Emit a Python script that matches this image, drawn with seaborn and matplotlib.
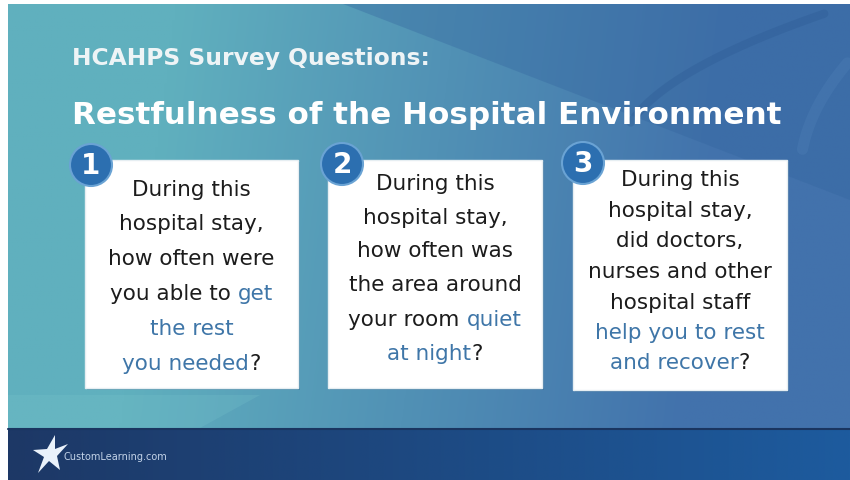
import numpy as np
import seaborn as sns
import matplotlib.pyplot as plt
from matplotlib.patches import Rectangle, Circle, Polygon

sns.set_style("white")
plt.rcParams['font.family'] = ['DejaVu Sans']

# slide texts
subtitle = "HCAHPS Survey Questions:"
title = "Restfulness of the Hospital Environment"
numbers = ["1", "2", "3"]
# words in [brackets] are drawn in blue
q1 = ["During this", "hospital stay,", "how often were", "you able to [get]",
      "[the rest]", "[you needed]?"]
q2 = ["During this", "hospital stay,", "how often was", "the area around",
      "your room [quiet]", "[at night]?"]
q3 = ["During this", "hospital stay,", "did doctors,", "nurses and other",
      "hospital staff", "[help you to rest]", "[and recover]?"]
questions = [q1, q2, q3]
footer = "CustomLearning.com"

W, H = 850, 480
fig = plt.figure(figsize=(8.5, 4.8), dpi=100)
ax = fig.add_axes([0, 0, 1, 1])
ax.set_xlim(0, W)
ax.set_ylim(H, 0)
ax.axis("off")

# background gradient (teal on the left, blue on the right)
xs = np.linspace(0, 1, 300)
ys = np.linspace(0, 1, 200)
X, Y = np.meshgrid(xs, ys)
teal = np.array([0x60, 0xB0, 0xBE]) / 255
blue = np.array([0x42, 0x72, 0xAC]) / 255
t = np.clip(X * 1.5 - 0.3 + Y * 0.1, 0, 1)[..., None]
img = teal * (1 - t) + blue * t
ax.imshow(img, extent=[8, W, 428, 4], aspect="auto", zorder=0)
# darker blue wedge at top right
ax.add_patch(Polygon([[343, 4], [W, 4], [W, 200]], closed=True,
                     color="#33649e", alpha=0.35, lw=0, zorder=1))
# lighter strip at the bottom left
ax.add_patch(Polygon([[8, 395], [260, 395], [200, 428], [8, 428]],
                     closed=True, color="#78c4cc", alpha=0.25, lw=0, zorder=1))
# soft arcs top right
ang = np.linspace(0.05, 0.95, 80)
ax.plot(620 + 215 * ang, 155 - 145 * np.sqrt(ang),
        color="#2c5a93", lw=6, alpha=0.35, zorder=1)
ax.plot(800 + 50 * ang, 175 - 115 * np.sqrt(ang),
        color="#5b8dc2", lw=8, alpha=0.2, zorder=1)

# footer bar
bar = np.linspace(0, 1, 300)[None, :, None]
navy = np.array([0x1D, 0x38, 0x66]) / 255
navy2 = np.array([0x1D, 0x5B, 0x9E]) / 255
ax.imshow(navy * (1 - bar) + navy2 * bar, extent=[8, W, H, 428],
          aspect="auto", zorder=1)
ax.plot([8, W], [428.5, 428.5], color="#1a3560", lw=1.5, zorder=2)
star = Polygon([[33, 450], [47, 449], [55, 435], [55, 449], [68, 444],
                [57, 456], [60, 470], [49, 461], [38, 473], [44, 457]],
               closed=True, color="#eaf2fb", lw=0, zorder=3)
ax.add_patch(star)
ax.text(64, 457, footer, color="#c3d3e8", fontsize=7, va="center",
        ha="left", zorder=3)

# titles
ax.text(72, 59, subtitle, color="#eef4f6", fontsize=16.8, fontweight="bold",
        va="center", ha="left", zorder=3)
ax.text(72, 116, title, color="white", fontsize=22.3, fontweight="bold",
        va="center", ha="left", zorder=3)

# boxes
boxes = [(85, 160, 213, 228), (328, 160, 214, 228), (573, 160, 214, 230)]
circles = [(91, 165), (342, 164), (583, 163)]
line_y = [[190, 224, 259, 294, 329, 364],
          [184, 218, 251, 285, 320, 354],
          [180, 211, 241, 272, 303, 333, 363]]
dark = "#1c1c1c"
blue_txt = "#3f76a8"
fs = 15.5

fig.canvas.draw()
renderer = fig.canvas.get_renderer()


def width_of(s):
    tt = ax.text(0, 0, s, fontsize=fs)
    bb = tt.get_window_extent(renderer=renderer)
    tt.remove()
    return bb.width


for (bx, by, bw, bh), lines, ly in zip(boxes, questions, line_y):
    ax.add_patch(Rectangle((bx + 2, by + 2), bw, bh, color="#2b5f88", alpha=0.3,
                           lw=0, zorder=3))
    ax.add_patch(Rectangle((bx, by), bw, bh, facecolor="white",
                           edgecolor="#e6eef2", lw=1, zorder=4))
    mid = bx + bw / 2
    for line, y in zip(lines, ly):
        # split into (segment, color)
        segs = []
        rest = line
        while rest:
            if rest.startswith("["):
                j = rest.index("]")
                segs.append((rest[1:j], blue_txt))
                rest = rest[j + 1:]
            else:
                j = rest.find("[")
                j = len(rest) if j < 0 else j
                segs.append((rest[:j], dark))
                rest = rest[j:]
        total = width_of(line.replace("[", "").replace("]", ""))
        x0 = mid - total / 2
        for s, c in segs:
            ax.text(x0, y, s, color=c, fontsize=fs, va="center", ha="left",
                    zorder=5)
            x0 += width_of("a" + s + "a") - width_of("aa")

for (cx, cy), n in zip(circles, numbers):
    ax.add_patch(Circle((cx, cy), 21, facecolor="#2c6fb0", edgecolor="#6aa3d4",
                        lw=1.5, zorder=6))
    ax.text(cx, cy + 1, n, color="white", fontsize=20, fontweight="bold",
            ha="center", va="center", zorder=7)

fig.savefig("out.png", dpi=100, facecolor="white")
